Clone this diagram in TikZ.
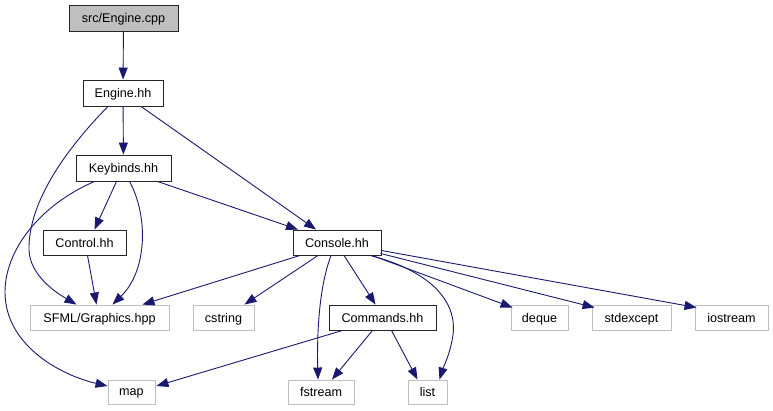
\documentclass[tikz,border=0pt]{standalone}
\usepackage{fontspec}
\setmainfont{Liberation Sans}
\usetikzlibrary{arrows.meta,calc}
\definecolor{edgeblue}{HTML}{191970}
\definecolor{extgray}{HTML}{BFBFBF}
\tikzset{
  base/.style={draw, line width=0.9pt, inner sep=0pt, minimum height=25pt, font=\fontsize{12.6pt}{14pt}\selectfont, text depth=0pt, anchor=center},
  intbox/.style={base, draw=black!85},
  extbox/.style={base, draw=extgray},
  rootbox/.style={base, draw=black!85, fill=extgray},
  dep/.style={draw=edgeblue, line width=0.9pt, -{Triangle[length=12pt,width=9pt]}},
}
\begin{document}
\begin{tikzpicture}[x=1pt,y=-1pt]
\useasboundingbox (0,0) rectangle (773,411);
\node[rootbox, minimum width=109pt, minimum height=26pt] (cpp) at (123.5,18) {src/Engine.cpp};
\node[intbox, minimum width=80pt, minimum height=26pt] (engine) at (123,93) {Engine.hh};
\node[intbox, minimum width=95pt, minimum height=26pt] (keyb) at (123.5,168) {Keybinds.hh};
\node[intbox, minimum width=83pt] (control) at (84.5,242.5) {Control.hh};
\node[intbox, minimum width=88pt] (console) at (337,242.5) {Console.hh};
\node[extbox, minimum width=139pt] (sfml) at (99.5,317.5) {SFML/Graphics.hpp};
\node[extbox, minimum width=61pt] (cstring) at (223.5,317.5) {cstring};
\node[intbox, minimum width=107pt] (commands) at (382.5,317.5) {Commands.hh};
\node[extbox, minimum width=57pt] (deque) at (539.5,317.5) {deque};
\node[extbox, minimum width=79pt] (stdexcept) at (631.5,317.5) {stdexcept};
\node[extbox, minimum width=73pt] (iostream) at (731.5,317.5) {iostream};
\node[extbox, minimum width=47pt, minimum height=24pt] (map) at (131.5,392) {map};
\node[extbox, minimum width=66pt, minimum height=24pt] (fstream) at (321,392) {fstream};
\node[extbox, minimum width=39pt, minimum height=24pt] (list) at (427.5,392) {list};

% Engine.cpp
\draw[dep] (cpp) -- (engine);
% Engine.hh
\draw[dep] (engine) -- (keyb);
\draw[dep] ($(engine.south)+(-15,0)$) .. controls (70,145) and (28,200) .. (29,250)
  .. controls (30,275) and (55,292) .. ($(sfml.north)+(-23,0)$);
\draw[dep] ($(engine.south)+(18,0)$) -- ($(console.north)+(-21,0)$);
% Keybinds.hh
\draw[dep] ($(keyb.south)+(-29,0)$) .. controls (40,205) and (5,250) .. (5,292)
  .. controls (5,345) and (60,375) .. ($(map.west)+(0,-6)$);
\draw[dep] ($(keyb.south)+(-7,0)$) -- ($(control.north)+(10,0)$);
\draw[dep] ($(keyb.south)+(6,0)$) .. controls (148,215) and (148,270) .. ($(sfml.north)+(13,0)$);
\draw[dep] ($(keyb.south)+(34,0)$) -- ($(console.north)+(-39,0)$);
% Control.hh
\draw[dep] ($(control.south)+(3,0)$) -- ($(sfml.north)+(-3,0)$);
% Console.hh
\draw[dep] ($(console.south)+(-37,0)$) -- ($(sfml.north)+(43,0)$);
\draw[dep] ($(console.south)+(-19,0)$) -- ($(cstring.north)+(21,0)$);
\draw[dep] ($(console.south)+(-6,0)$) .. controls (318,290) and (317,340) .. ($(fstream.north)+(-3,0)$);
\draw[dep] ($(console.south)+(7,0)$) -- ($(commands.north)+(-7,0)$);
\draw[dep] ($(console.south)+(33,0)$) .. controls (420,268) and (458,295) .. (453,335)
  .. controls (450,355) and (443,368) .. ($(list.north)+(12,0)$);
\draw[dep] ($(console.south)+(35,0)$) -- ($(deque.north west)+(2,3)$);
\draw[dep] ($(console.south east)+(-1,-2)$) -- ($(stdexcept.north west)+(3,3)$);
\draw[dep] ($(console.east)+(0,8)$) -- ($(iostream.north west)+(2,3)$);
% Commands.hh
\draw[dep] ($(commands.south)+(-40,0)$) -- ($(map.east)+(1,-6)$);
\draw[dep] ($(commands.south)+(-10,0)$) -- ($(fstream.north)+(11,0)$);
\draw[dep] ($(commands.south)+(9,0)$) -- ($(list.north)+(-10,0)$);
\end{tikzpicture}
\end{document}
